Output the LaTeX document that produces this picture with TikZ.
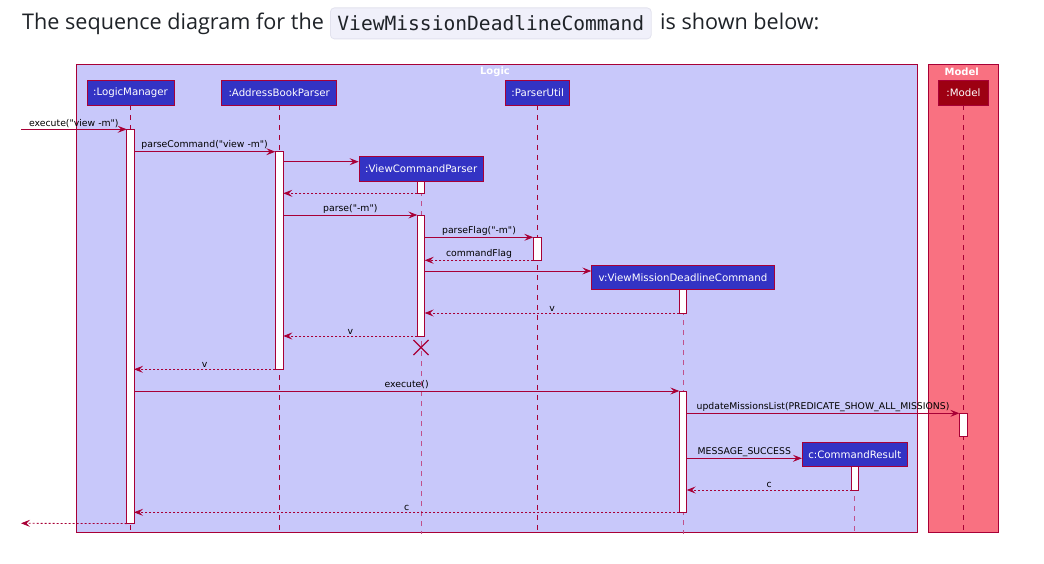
\documentclass[tikz,border=0pt]{standalone}
\usepackage{fontspec}
\setmainfont{Open Sans}
\newfontfamily\dejavu{DejaVu Sans}
\newfontfamily\dejavumono{DejaVu Sans Mono}
\usetikzlibrary{arrows.meta,shapes.misc}
\definecolor{plred}{HTML}{A80036}
\definecolor{lifelight}{HTML}{C0508A}
\definecolor{logicT1}{HTML}{C8C8FA}
\definecolor{logicC}{HTML}{3333C4}
\definecolor{modelT1}{HTML}{F97181}
\definecolor{modelC}{HTML}{9D0012}
\definecolor{codebg}{HTML}{F0F0FA}
\definecolor{codeborder}{HTML}{E2E2EE}
\definecolor{titletext}{HTML}{1F2328}
\tikzset{
  part/.style={draw=plred, line width=0.8pt, fill=logicC, text=white,
    font=\dejavu\fontsize{10.2}{12}\selectfont, inner sep=0pt, minimum height=25pt},
  modelpart/.style={part, fill=modelC},
  act/.style={draw=plred, line width=0.8pt, fill=white, inner sep=0pt, outer sep=0pt, anchor=north west},
  life/.style={draw=plred, line width=0.8pt, dash pattern=on 5pt off 5pt},
  lifelt/.style={draw=lifelight, line width=0.7pt, dash pattern=on 5pt off 5pt},
  msg/.style={draw=plred, line width=0.8pt, -{Stealth[length=9pt,width=7pt,inset=3.5pt]}},
  ret/.style={msg, dash pattern=on 2pt off 2pt},
  lbl/.style={font=\dejavu\fontsize{9.3}{11}\selectfont, text=black, inner sep=1.5pt, above, midway},
  frametitle/.style={font=\dejavu\bfseries\fontsize{10}{12}\selectfont, text=white, inner sep=0pt},
  frame/.style={draw=plred, line width=0.8pt, inner sep=0pt, outer sep=0pt, anchor=north west},
  titlefont/.style={font=\fontsize{21.6}{25}\selectfont, text=titletext, inner sep=0pt, anchor=base west},
}
\begin{document}
\begin{tikzpicture}[x=1pt,y=-1pt]
\useasboundingbox (0,0) rectangle (1044,564);
\fill[white] (0,0) rectangle (1044,564);

% title line
\node[titlefont] (t1) at (22,30) {The sequence diagram for the};
\node[draw=codeborder, fill=codebg, rounded corners=4pt, line width=0.8pt, anchor=north west,
      minimum height=31pt, inner xsep=7pt, inner ysep=0pt, text=titletext,
      font=\dejavumono\fontsize{19.6}{22}\selectfont] (code) at (330,7.5) {ViewMissionDeadlineCommand};
\node[titlefont] (t2) at (660,30) {is shown below:};

% frames
\node[frame, fill=logicT1, minimum width=841.2pt, minimum height=468pt] (logicF) at (76.5,64.3) {};
\node[frame, fill=modelT1, minimum width=70pt, minimum height=468pt] (modelF) at (928.7,64.3) {};
\node[frametitle] (logicT) at (495,71.5) {Logic};
\node[frametitle] (modelT) at (961.7,71.5) {Model};

% participants
\node[part, minimum width=87pt] (pLM) at (130.5,92.5) {:LogicManager};
\node[part, minimum width=115pt] (pABP) at (279.2,92.5) {:AddressBookParser};
\node[part, minimum width=64.3pt] (pPU) at (537.6,92.5) {:ParserUtil};
\node[modelpart, minimum width=49.6pt] (pMod) at (963.5,92.5) {:Model};
\node[part, minimum width=124.3pt, minimum height=24.3pt] (pVCP) at (421.2,168.8) {:ViewCommandParser};
\node[part, minimum width=182.6pt, minimum height=24pt] (pVM) at (683,277.7) {v:ViewMissionDeadlineCommand};
\node[part, minimum width=105pt, minimum height=23.7pt] (pCR) at (854.8,454.2) {c:CommandResult};

% lifelines
\draw[life] (pLM.south) -- (pLM.south |- 0,534);
\draw[life] (pABP.south) -- (pABP.south |- 0,534);
\draw[life] (pPU.south) -- (pPU.south |- 0,534);
\draw[life] (pMod.south) -- (pMod.south |- 0,534);
\draw[lifelt] (pVCP.south) -- (pVCP.south |- 0,534);
\draw[lifelt] (pVM.south) -- (pVM.south |- 0,534);
\draw[lifelt] (pCR.south) -- (pCR.south |- 0,535.7);

% activations
\node[act, minimum width=7.3pt, minimum height=394.3pt] (aLM) at (126.7,129.3) {};
\node[act, minimum width=8pt, minimum height=217.6pt] (aABP) at (275.3,151.7) {};
\node[act, minimum width=7.4pt, minimum height=12.3pt] (aVCP1) at (417.3,181) {};
\node[act, minimum width=7.4pt, minimum height=121pt] (aVCP2) at (417.3,215) {};
\node[act, minimum width=8pt, minimum height=23pt] (aPU) at (533.3,237.3) {};
\node[act, minimum width=7.4pt, minimum height=23.3pt] (aVM1) at (679.3,289.7) {};
\node[act, minimum width=7.4pt, minimum height=121.3pt] (aVM2) at (679.3,391) {};
\node[act, minimum width=8pt, minimum height=22.7pt] (aMod) at (959.3,413.3) {};
\node[act, minimum width=6.6pt, minimum height=24pt] (aCR) at (851.7,466) {};

% destruction mark
\node[cross out, draw=plred, line width=1.1pt, minimum size=14pt, inner sep=0pt] (xVCP) at (421,347.5) {};

% messages
\coordinate (inStart) at (21,129.3);
\coordinate (outEnd) at (21,523.3);
\draw[msg] (inStart) -- (aLM.west |- inStart) node[lbl] {execute("view -m")};
\draw[msg] (aLM.east |- 0,151.7) -- (aABP.west |- 0,151.7) node[lbl] {parseCommand("view -m")};
\draw[msg] (aABP.east |- 0,161.7) -- (pVCP.west |- 0,161.7);
\draw[ret] (aVCP1.south west) -- (aABP.east |- aVCP1.south west);
\draw[msg] (aABP.east |- 0,215) -- (aVCP2.north west) node[lbl] {parse("-m")};
\draw[msg] (aVCP2.east |- 0,237.3) -- (aPU.north west) node[lbl] {parseFlag("-m")};
\draw[ret] (aPU.south west) -- (aVCP2.east |- aPU.south west) node[lbl] {commandFlag};
\draw[msg] (aVCP2.east |- 0,271) -- (pVM.west |- 0,271);
\draw[ret] (aVM1.south west) -- (aVCP2.east |- aVM1.south west) node[lbl] {v};
\draw[ret] (aVCP2.south west) -- (aABP.east |- aVCP2.south west) node[lbl] {v};
\draw[ret] (aABP.south west) -- (aLM.east |- aABP.south west) node[lbl] {v};
\draw[msg] (aLM.east |- 0,391) -- (aVM2.north west) node[lbl] {execute()};
\draw[msg] (aVM2.east |- 0,413.3) -- (aMod.north west) node[lbl] {updateMissionsList(PREDICATE\_SHOW\_ALL\_MISSIONS)};
\draw[msg] (aVM2.east |- 0,458.3) -- (pCR.west |- 0,458.3) node[lbl] {MESSAGE\_SUCCESS};
\draw[ret] (aCR.south west) -- (aVM2.east |- aCR.south west) node[lbl] {c};
\draw[ret] (aVM2.south west) -- (aLM.east |- aVM2.south west) node[lbl] {c};
\draw[ret] (aLM.south west) -- (outEnd);
\end{tikzpicture}
\end{document}
